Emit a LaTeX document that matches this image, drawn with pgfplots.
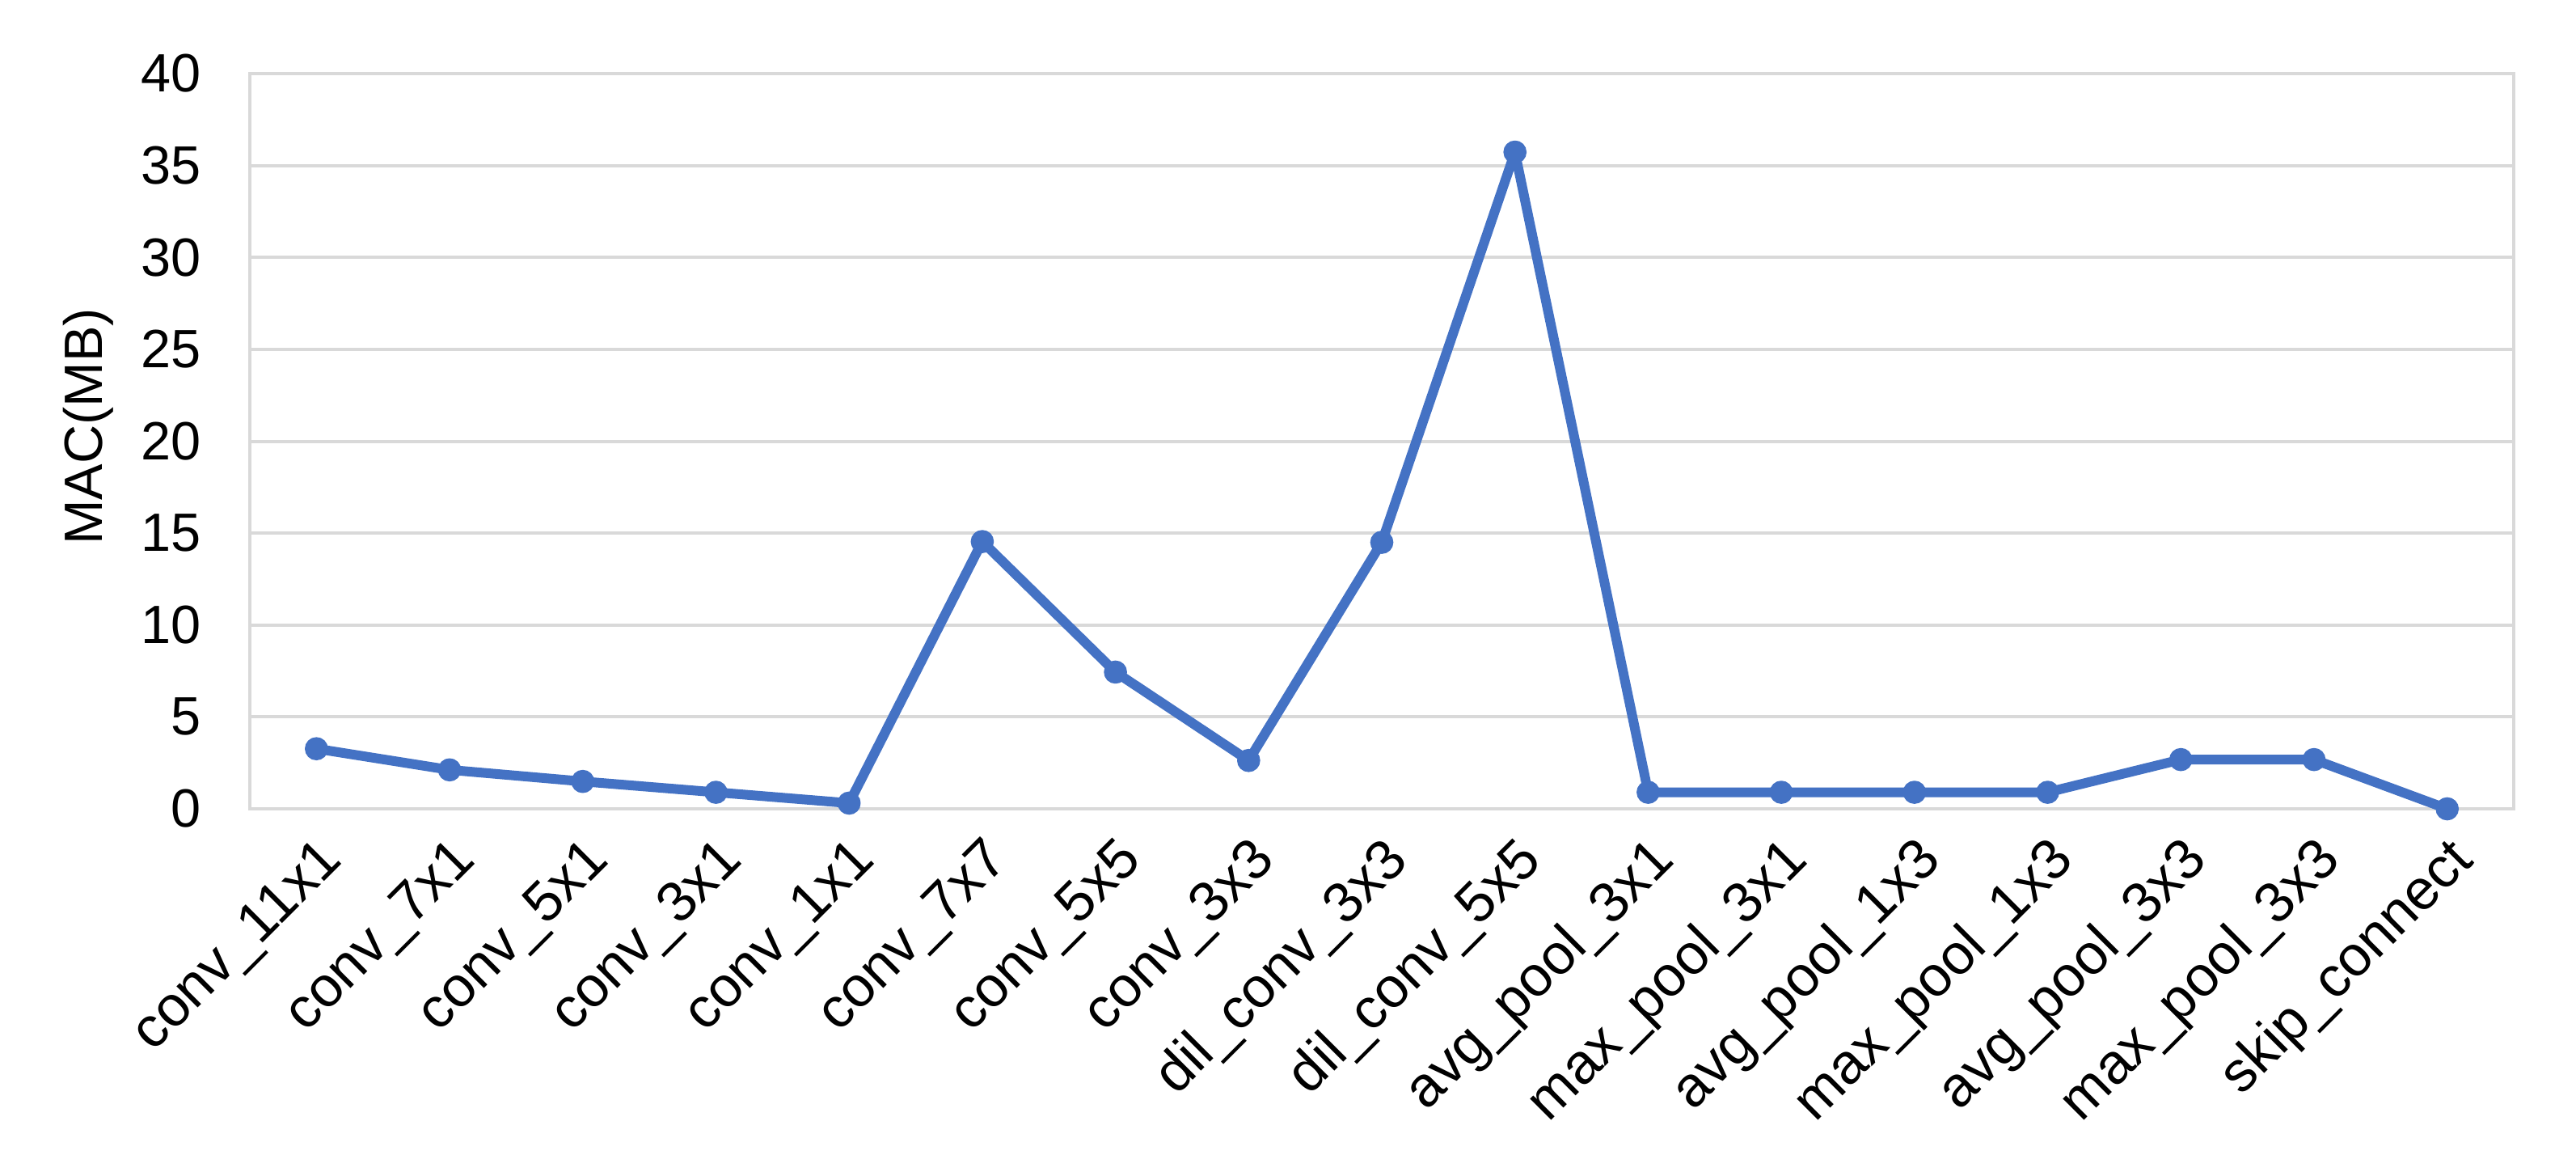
\documentclass[border=0pt]{standalone}
\usepackage{fontspec}
\setmainfont{Liberation Sans}
\usepackage{pgfplots}
\pgfplotsset{compat=1.18}

\definecolor{lineblue}{HTML}{4472C4}
\definecolor{gridgray}{HTML}{D9D9D9}

\begin{document}
\begin{tikzpicture}
\begin{axis}[
    at={(0,0)}, anchor=south west,
    scale only axis,
    width=420pt, height=136.35pt,
    xmin=-0.5, xmax=16.5, ymin=0, ymax=40,
    ytick={0,5,...,40},
    xtick={0,...,16},
    xticklabels={conv\_11x1, conv\_7x1, conv\_5x1, conv\_3x1, conv\_1x1,
        conv\_7x7, conv\_5x5, conv\_3x3, dil\_conv\_3x3, dil\_conv\_5x5,
        avg\_pool\_3x1, max\_pool\_3x1, avg\_pool\_1x3, max\_pool\_1x3,
        avg\_pool\_3x3, max\_pool\_3x3, skip\_connect},
    major tick length=0pt,
    ymajorgrids, grid style={gridgray, line width=0.6pt},
    axis line style={gridgray, line width=0.7pt},
    yticklabel style={font=\fontsize{10}{12}\selectfont, black, xshift=-5.5pt},
    /pgf/number format/assume math mode=true,
    xticklabel style={font=\fontsize{10.5}{12}\selectfont, black,
        rotate=45, anchor=east, xshift=0.2pt, yshift=-8pt},
    ylabel={MAC(MB)},
    ylabel style={font=\fontsize{10}{12}\selectfont, at={(ticklabel cs:0.52)}, anchor=south, yshift=-1.7pt},
]
\addplot[color=lineblue, line width=1.8pt, line join=round, mark=*, mark size=1.9pt,
    mark options={fill=lineblue, draw=lineblue, line width=0.5pt}] coordinates {
    (0, 3.27) (1, 2.12) (2, 1.49) (3, 0.9) (4, 0.31)
    (5, 14.54) (6, 7.44) (7, 2.63) (8, 14.5) (9, 35.73)
    (10, 0.9) (11, 0.9) (12, 0.9) (13, 0.9)
    (14, 2.68) (15, 2.68) (16, 0)
};
\end{axis}
\pgfresetboundingbox
\path[use as bounding box] (-46.35pt,-64.05pt) rectangle (431.55pt,150pt);
\end{tikzpicture}
\end{document}
